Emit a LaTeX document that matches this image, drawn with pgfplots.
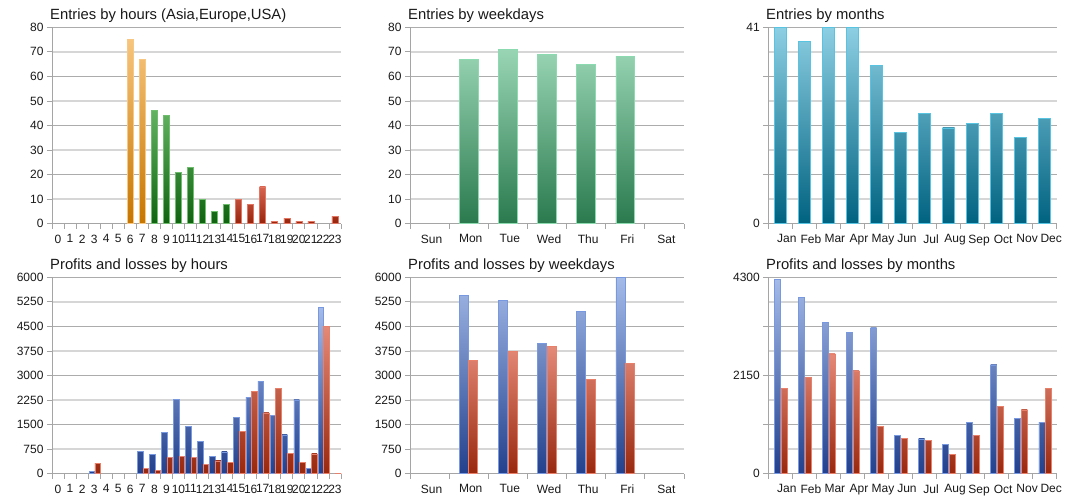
\documentclass[border=0pt]{standalone}
\usepackage{fontspec}
\setmainfont{Liberation Sans}
\usepackage{pgfplots}
\pgfplotsset{compat=1.18}

\definecolor{axisc}{RGB}{165,165,165}
\definecolor{gridd}{RGB}{172,172,172}
\definecolor{gridl}{RGB}{214,214,214}
\definecolor{txt}{RGB}{25,25,25}
\definecolor{oT}{RGB}{247,197,126}
\definecolor{oB}{RGB}{198,118,0}
\definecolor{oE}{RGB}{248,200,130}
\definecolor{gT}{RGB}{98,178,98}
\definecolor{gB}{RGB}{16,98,16}
\definecolor{gE}{RGB}{110,190,110}
\definecolor{rT}{RGB}{214,100,80}
\definecolor{rB}{RGB}{150,36,12}
\definecolor{rE}{RGB}{226,118,98}
\definecolor{wT}{RGB}{153,213,180}
\definecolor{wB}{RGB}{42,122,78}
\definecolor{wE}{RGB}{140,218,176}
\definecolor{tT}{RGB}{141,207,227}
\definecolor{tB}{RGB}{0,98,128}
\definecolor{tE}{RGB}{88,196,226}
\definecolor{bT}{RGB}{164,187,232}
\definecolor{bB}{RGB}{34,64,140}
\definecolor{bE}{RGB}{120,152,224}
\definecolor{pT}{RGB}{228,138,120}
\definecolor{pB}{RGB}{152,40,14}
\definecolor{pE}{RGB}{232,128,106}

\newcommand{\tickfont}{\fontsize{12}{14}\selectfont}
\newcommand{\titlefont}{\fontsize{14.8}{17}\selectfont}

% one bar: x, value, series max, bar shift, bar width, top colour, bottom colour, edge colour
\newcommand\gbar[8]{%
 \pgfmathtruncatemacro\gpct{100*(#2/#3)}%
 \edef\gtmp{\noexpand\addplot[ybar, bar width=#5, bar shift=#4,
   top color=#6!\gpct!#7, bottom color=#7, draw=#8, line width=0.6pt]
   coordinates {(#1,#2)};}%
 \gtmp}
\newcommand\hO[2]{\gbar{#1}{#2}{75}{0}{0.5}{oT}{oB}{oE}}
\newcommand\hG[2]{\gbar{#1}{#2}{46}{0}{0.5}{gT}{gB}{gE}}
\newcommand\hR[2]{\gbar{#1}{#2}{15}{0}{0.5}{rT}{rB}{rE}}
\newcommand\dG[2]{\gbar{#1}{#2}{71}{0}{0.48}{wT}{wB}{wE}}
\newcommand\mT[2]{\gbar{#1}{#2}{41}{0}{0.5}{tT}{tB}{tE}}
\newcommand\phB[2]{\gbar{#1}{#2}{5071}{-0.18}{0.45}{bT}{bB}{bE}}
\newcommand\phR[2]{\gbar{#1}{#2}{4512}{0.29}{0.45}{pT}{pB}{pE}}
\newcommand\pdB[2]{\gbar{#1}{#2}{5990}{-0.125}{0.23}{bT}{bB}{bE}}
\newcommand\pdR[2]{\gbar{#1}{#2}{3880}{0.115}{0.23}{pT}{pB}{pE}}
\newcommand\pmB[2]{\gbar{#1}{#2}{4256}{-0.12}{0.25}{bT}{bB}{bE}}
\newcommand\pmR[2]{\gbar{#1}{#2}{2621}{0.15}{0.25}{pT}{pB}{pE}}

\pgfplotsset{
 panel/.style={
  scale only axis, anchor=south west, height=196.4pt,
  axis lines=left, axis line style={-, draw=axisc, line width=0.8pt},
  tick align=outside, major tick length=5pt, minor tick length=0pt,
  every tick/.style={draw=axisc, line width=0.8pt},
  ymajorgrids, yminorgrids,
  major grid style={draw=gridd, line width=0.7pt},
  minor grid style={draw=gridl, line width=1.5pt},
  tick label style={font=\tickfont, text=txt},
  ymin=0,
  extra y tick style={grid=none},
 },
 hours/.style={panel, width=289pt, xmin=-0.5, xmax=23.5,
  xtick={-0.5,0.5,...,23.5}, xticklabels={},
  extra x ticks={0,1,...,23},
  extra x tick labels={0,1,2,3,4,5,6,7,8,9,10,11,12,13,14,15,16,17,18,19,20,21,22,23},
  extra x tick style={major tick length=0pt, grid=none, xticklabel style={yshift=-7.5pt}}},
 days/.style={panel, width=274pt, xmin=-0.5, xmax=6.5,
  xtick={-0.5,0.5,...,6.5}, xticklabels={},
  extra x ticks={0,1,...,6},
  extra x tick labels={Sun,Mon,Tue,Wed,Thu,Fri,Sat},
  extra x tick style={major tick length=0pt, grid=none, xticklabel style={xshift=2pt, yshift=-7.5pt}}},
 months/.style={panel, width=288.4pt, xmin=-0.5, xmax=11.5,
  xtick={-0.5,0.5,...,11.5}, xticklabels={},
  extra x ticks={0,1,...,11},
  extra x tick labels={Jan,Feb,Mar,Apr,May,Jun,Jul,Aug,Sep,Oct,Nov,Dec},
  extra x tick style={major tick length=0pt, grid=none, xticklabel style={xshift=6.5pt, yshift=-7.5pt}}},
 hours80/.style={ymax=80, ytick={0,20,40,60,80}, yticklabels={0,20,40,60,80},
  minor ytick={10,30,50,70}, extra y ticks={10,30,50,70}, extra y tick labels={10,30,50,70}},
 prof6000/.style={ymax=6000, ytick={0,1500,3000,4500,6000}, yticklabels={0,1500,3000,4500,6000},
  minor ytick={750,2250,3750,5250}, extra y ticks={750,2250,3750,5250}, extra y tick labels={750,2250,3750,5250}},
}

\begin{document}
\begin{tikzpicture}
\useasboundingbox (0pt,0pt) rectangle (1075pt,500pt);

% ---------- Entries by hours ----------
\begin{axis}[hours, hours80, at={(52pt,276.3pt)}]
\hO{6}{75} \hO{7}{67}
\hG{8}{46} \hG{9}{44} \hG{10}{21} \hG{11}{23} \hG{12}{10} \hG{13}{5} \hG{14}{8}
\hR{15}{10} \hR{16}{8} \hR{17}{15} \hR{18}{1} \hR{19}{2} \hR{20}{1} \hR{21}{1} \hR{23}{3}
\end{axis}
\node[anchor=base west, inner sep=0, font=\titlefont, text=txt] at (50pt,480.7pt) {Entries by hours (Asia,Europe,USA)};

% ---------- Entries by weekdays ----------
\begin{axis}[days, hours80, at={(410pt,276.3pt)}]
\dG{1}{67} \dG{2}{71} \dG{3}{69} \dG{4}{65} \dG{5}{68}
\end{axis}
\node[anchor=base west, inner sep=0, font=\titlefont, text=txt] at (408pt,480.7pt) {Entries by weekdays};

% ---------- Entries by months ----------
\begin{axis}[months, at={(768.3pt,276.3pt)}, ymax=41,
  ytick={0,10.25,20.5,30.75,41}, yticklabels={0,,,,41},
  minor ytick={5.125,15.375,25.625,35.875}]
\mT{0}{41} \mT{1}{38} \mT{2}{41} \mT{3}{41} \mT{4}{33} \mT{5}{19}
\mT{6}{23} \mT{7}{20} \mT{8}{21} \mT{9}{23} \mT{10}{18} \mT{11}{22}
\end{axis}
\node[anchor=base west, inner sep=0, font=\titlefont, text=txt] at (766pt,480.7pt) {Entries by months};

% ---------- Profits and losses by hours ----------
\begin{axis}[hours, prof6000, at={(52pt,26.3pt)}]
\phB{3}{70} \phB{7}{670} \phB{8}{600} \phB{9}{1250} \phB{10}{2270} \phB{11}{1455}
\phB{12}{985} \phB{13}{530} \phB{14}{668} \phB{15}{1715} \phB{16}{2343} \phB{17}{2815}
\phB{18}{1780} \phB{19}{1187} \phB{20}{2255} \phB{21}{170} \phB{22}{5071}
\phR{3}{317} \phR{7}{167} \phR{8}{113} \phR{9}{500} \phR{10}{525} \phR{11}{500}
\phR{12}{296} \phR{13}{388} \phR{14}{348} \phR{15}{1304} \phR{16}{2510} \phR{17}{1855}
\phR{18}{2618} \phR{19}{623} \phR{20}{342} \phR{21}{602} \phR{22}{4512} \phR{23}{15}
\end{axis}
\node[anchor=base west, inner sep=0, font=\titlefont, text=txt] at (50pt,230.7pt) {Profits and losses by hours};

% ---------- Profits and losses by weekdays ----------
\begin{axis}[days, prof6000, at={(410pt,26.3pt)}]
\pdB{1}{5440} \pdB{2}{5300} \pdB{3}{3985} \pdB{4}{4960} \pdB{5}{5990}
\pdR{1}{3452} \pdR{2}{3748} \pdR{3}{3880} \pdR{4}{2893} \pdR{5}{3372}
\end{axis}
\node[anchor=base west, inner sep=0, font=\titlefont, text=txt] at (408pt,230.7pt) {Profits and losses by weekdays};

% ---------- Profits and losses by months ----------
\begin{axis}[months, at={(768.3pt,26.3pt)}, ymax=4300,
  ytick={0,1075,2150,3225,4300}, yticklabels={0,,2150,,4300},
  minor ytick={537.5,1612.5,2687.5,3762.5}]
\pmB{0}{4256} \pmB{1}{3853} \pmB{2}{3321} \pmB{3}{3096} \pmB{4}{3190} \pmB{5}{840}
\pmB{6}{760} \pmB{7}{635} \pmB{8}{1117} \pmB{9}{2380} \pmB{10}{1213} \pmB{11}{1125}
\pmR{0}{1870} \pmR{1}{2117} \pmR{2}{2621} \pmR{3}{2249} \pmR{4}{1037} \pmR{5}{775}
\pmR{6}{723} \pmR{7}{424} \pmR{8}{832} \pmR{9}{1482} \pmR{10}{1395} \pmR{11}{1876}
\end{axis}
\node[anchor=base west, inner sep=0, font=\titlefont, text=txt] at (766pt,230.7pt) {Profits and losses by months};
\end{tikzpicture}
\end{document}
